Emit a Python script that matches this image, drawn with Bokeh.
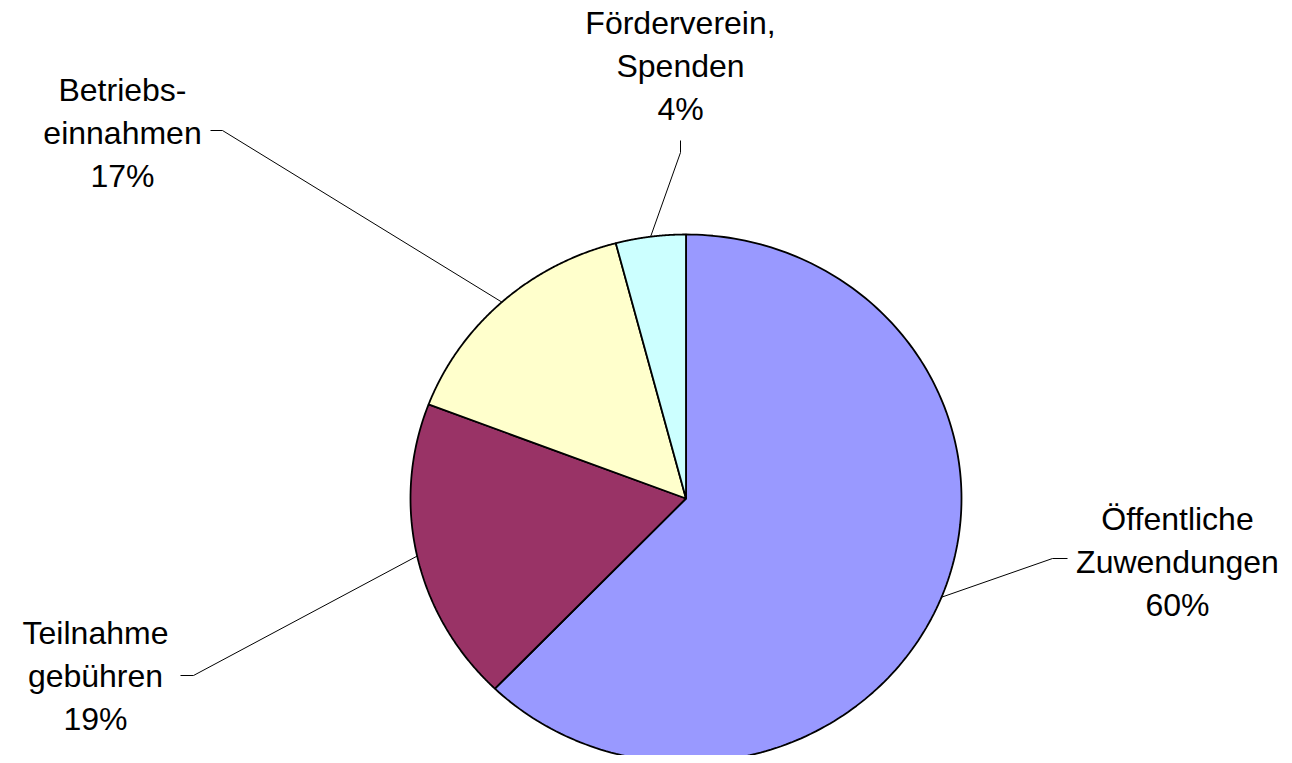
import numpy as np
from bokeh.plotting import figure
from bokeh.models import Range1d, ColumnDataSource
from bokeh.embed import file_html
from bokeh.resources import INLINE
from bokeh.core.properties import value

# ---- data ----
categories = ["Öffentliche Zuwendungen", "Teilnahme gebühren", "Betriebseinnahmen", "Förderverein, Spenden"]
shares = [62.2, 18.6, 15.1, 4.1]          # slice sizes as drawn
pct_labels = ["60%", "19%", "17%", "4%"]  # printed labels
label_lines = [["Öffentliche", "Zuwendungen"],
               ["Teilnahme", "gebühren"],
               ["Betriebs-", "einnahmen"],
               ["Förderverein,", "Spenden"]]
colors = ["#9999FF", "#993366", "#FFFFCC", "#CCFFFF"]

# ---- layout (screen pixel coordinates) ----
W, H = 1284, 755
CX, CY, RX, RY = 685.5, 498.0, 275.5, 264.0
label_x = [1177, 95, 122, 680]
label_base = [518, 632, 89, 22]       # baseline of first text line
LINE_GAP = 43
leader_text_end = [(1067, 558), (180, 675), (210, 130), (680, 140)]
leader_bend = [(1052, 558), (193, 675), (222, 130), (680, 152)]
FONT = "Liberation Sans"
FSIZE = "32px"

p = figure(width=W, height=H, x_range=Range1d(0, W), y_range=Range1d(H, 0),
           output_backend="svg", toolbar_location=None, min_border=0,
           x_axis_type=None, y_axis_type=None)
p.grid.visible = False
p.outline_line_color = None
p.background_fill_color = "white"
p.border_fill_color = "white"

# slices: clockwise from 12 o'clock
total = float(sum(shares))
cum = np.concatenate([[0.0], np.cumsum(shares) / total])
xs, ys, mids = [], [], []
for i in range(len(shares)):
    a0 = np.pi / 2 - 2 * np.pi * cum[i]
    a1 = np.pi / 2 - 2 * np.pi * cum[i + 1]
    t = np.linspace(a0, a1, 200)
    xs.append(np.concatenate([[CX], CX + RX * np.cos(t), [CX]]).tolist())
    ys.append(np.concatenate([[CY], CY - RY * np.sin(t), [CY]]).tolist())
    mids.append((a0 + a1) / 2)

src = ColumnDataSource(dict(xs=xs, ys=ys, color=colors, cat=categories))
p.patches("xs", "ys", source=src, fill_color="color", line_color="black", line_width=1.8)

# leader lines
lx, ly = [], []
for i, m in enumerate(mids):
    ex, ey = CX + RX * np.cos(m), CY - RY * np.sin(m)
    lx.append([leader_text_end[i][0], leader_bend[i][0], ex])
    ly.append([leader_text_end[i][1], leader_bend[i][1], ey])
p.multi_line(lx, ly, line_color="black", line_width=1)

# labels
tx, ty, tt = [], [], []
for i in range(len(categories)):
    lines = label_lines[i] + [pct_labels[i]]
    for j, s in enumerate(lines):
        tx.append(label_x[i])
        ty.append(label_base[i] + j * LINE_GAP)
        tt.append(s)
p.text(tx, ty, text=tt, text_align="center", text_baseline="alphabetic",
       text_font=value(FONT), text_font_size=FSIZE, text_color="black")

open("out.html", "w").write(file_html(p, INLINE))
